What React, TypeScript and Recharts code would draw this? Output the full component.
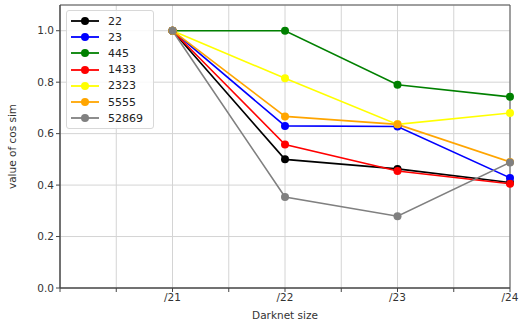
import React from 'react'
import { LineChart, Line, XAxis, YAxis, CartesianGrid, ReferenceArea } from 'recharts'

const sizes = [21, 22, 23, 24]
const sizeLabels = ['/21', '/22', '/23', '/24']

const s22 = [1.0, 0.5, 0.463, 0.41]
const s23 = [1.0, 0.63, 0.628, 0.428]
const s445 = [1.0, 1.0, 0.79, 0.743]
const s1433 = [1.0, 0.558, 0.455, 0.405]
const s2323 = [1.0, 0.815, 0.636, 0.68]
const s5555 = [1.0, 0.667, 0.636, 0.49]
const s52869 = [1.0, 0.354, 0.279, 0.488]

const seriesNames = ['22', '23', '445', '1433', '2323', '5555', '52869']
const seriesValues = [s22, s23, s445, s1433, s2323, s5555, s52869]
const seriesColors = ['#000000', '#0000ff', '#008000', '#ff0000', '#ffff00', '#ffa500', '#808080']

const xTicks = [20, 20.5, 21, 21.5, 22, 22.5, 23, 23.5, 24]
const yTicks = [0, 0.2, 0.4, 0.6, 0.8, 1.0]

const data = sizes.map((x, i) => {
  const row: Record<string, number> = { x }
  seriesNames.forEach((name, j) => {
    row[name] = seriesValues[j][i]
  })
  return row
})

const font = 'DejaVu Sans, sans-serif'

function LegendBox(): React.JSX.Element {
  return (
    <div
      style={{
        position: 'absolute',
        left: 66,
        top: 10,
        border: '1px solid #d8d8d8',
        borderRadius: 3,
        background: 'rgba(255,255,255,0.85)',
        padding: '2px 10px 2px 4px',
        fontFamily: font,
        fontSize: 11,
        color: '#222',
      }}
    >
      {seriesNames.map((name, i) => (
        <div key={name} style={{ display: 'flex', alignItems: 'center', height: 16.2 }}>
          <svg width={28} height={10} style={{ marginRight: 9 }}>
            <line x1={0} y1={5} x2={28} y2={5} stroke={seriesColors[i]} strokeWidth={1.8} />
            <circle cx={14} cy={5} r={4} fill={seriesColors[i]} />
          </svg>
          <span>{name}</span>
        </div>
      ))}
    </div>
  )
}

export default function App(): React.JSX.Element {
  return (
    <div style={{ position: 'absolute', left: 0, top: 0, width: 521, height: 322, background: '#fff' }}>
      <LineChart width={521} height={322} data={data} margin={{ top: 5, right: 11, left: 0, bottom: 0 }}>
        <CartesianGrid stroke="#d4d4d4" strokeWidth={1} />
        <XAxis
          dataKey="x"
          type="number"
          domain={[20, 24]}
          ticks={xTicks}
          height={34}
          tickFormatter={(v: number) => {
            const i = sizes.indexOf(v)
            return i >= 0 ? sizeLabels[i] : ''
          }}
          tick={{ fontSize: 10.5, fill: '#333', fontFamily: font }}
          tickSize={4}
          stroke="#444"
          label={{ value: 'Darknet size', position: 'insideBottom', offset: 3, fontSize: 10.5, fill: '#333', fontFamily: font }}
        />
        <YAxis
          type="number"
          domain={[0, 1.1]}
          ticks={yTicks}
          width={60}
          tickFormatter={(v: number) => v.toFixed(1)}
          tick={{ fontSize: 10.5, fill: '#333', fontFamily: font }}
          tickSize={4}
          stroke="#444"
          label={{ value: 'value of cos sim', angle: -90, position: 'insideLeft', offset: 12, fontSize: 10.5, fill: '#333', fontFamily: font, style: { textAnchor: 'middle' } }}
        />
        <ReferenceArea x1={20} x2={24} y1={0} y2={1.1} fill="none" stroke="#555" strokeWidth={1} ifOverflow="visible" />
        {seriesNames.map((name, i) => (
          <Line
            key={name}
            dataKey={name}
            stroke={seriesColors[i]}
            strokeWidth={1.6}
            dot={{ r: 4, fill: seriesColors[i], stroke: seriesColors[i], strokeWidth: 0 }}
            activeDot={false}
            isAnimationActive={false}
          />
        ))}
      </LineChart>
      <LegendBox />
    </div>
  )
}
